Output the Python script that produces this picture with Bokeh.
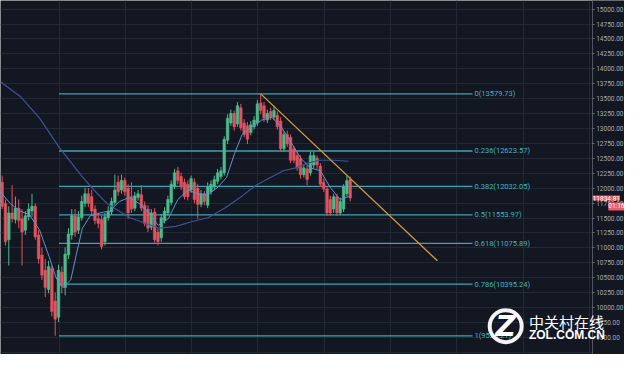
from bokeh.plotting import figure
from bokeh.models import Range1d, FixedTicker, PrintfTickFormatter, Label, ColumnDataSource
from bokeh.embed import file_html
from bokeh.resources import INLINE
from bokeh.core.properties import value

# ---------------- data ----------------
opens = [12099, 11746, 11137, 11586, 11474, 11666, 11490, 11298, 11522, 11618,
         11698, 11217, 10881, 10624, 10304, 10656, 10111, 9839, 10592, 10336,
         10881, 11217, 11538, 11298, 11506, 11746, 11907, 11859, 11650, 11490,
         11474, 11105, 11506, 11602, 11762, 12099, 11971, 12131, 12003, 11859,
         11666, 11843, 11891, 11714, 11650, 11346, 11602, 11265, 11169, 11458,
         11586, 11762, 12035, 12292, 12195, 12099, 12067, 11971, 12099, 12003,
         11730, 11907, 11714, 11939, 12019, 12115, 12195, 12260, 12804, 13093,
         13253, 13077, 13349, 13093, 13045, 12933, 13029, 13093, 13429, 13381,
         13141, 13285, 13189, 13221, 13125, 12660, 12901, 12853, 12660, 12548,
         12500, 12227, 12324, 12260, 12388, 12500, 12372, 12099, 11987, 11811,
         11650, 11859, 11586, 11650, 11907, 12147]
closes = [11698, 11105, 11586, 11490, 11666, 11458, 11265, 11538, 11650, 11698,
          11185, 10817, 10544, 10336, 10688, 9935, 9807, 10624, 10368, 10897,
          11233, 11538, 11265, 11522, 11779, 11907, 11746, 11618, 11458, 11410,
          11025, 11522, 11618, 11779, 11971, 11939, 12131, 11939, 11586, 11650,
          11875, 11907, 11666, 11410, 11330, 11586, 11137, 11105, 11506, 11618,
          11811, 12067, 12260, 12131, 12019, 11859, 11859, 12163, 11811, 11730,
          11907, 11779, 12019, 12067, 12147, 12260, 12292, 12820, 13173, 13253,
          13029, 13381, 13013, 12901, 12820, 13061, 13141, 13413, 13301, 13173,
          13253, 13189, 13301, 13029, 12660, 12901, 12740, 12468, 12468, 12340,
          12227, 12340, 12147, 12548, 12548, 12388, 12067, 11987, 11586, 11586,
          11859, 11586, 11779, 12019, 12131, 11834.81]
highs = [12211, 11811, 11698, 12051, 11859, 11811, 11650, 11618, 11746, 11907,
         11746, 11298, 11009, 10817, 10784, 10704, 10256, 10720, 10688, 11009,
         11330, 11650, 11650, 11618, 11875, 12003, 12003, 11971, 11714, 11586,
         11538, 11586, 11698, 11843, 12227, 12211, 12227, 12179, 12067, 12099,
         11939, 11971, 12051, 11779, 11714, 11650, 11666, 11330, 11570, 11682,
         11875, 12131, 12324, 12356, 12260, 12163, 12131, 12211, 12163, 12067,
         11971, 11955, 12099, 12131, 12211, 12324, 12356, 12869, 13237, 13317,
         13301, 13445, 13413, 13157, 13109, 13125, 13205, 13478, 13579.73, 13445,
         13317, 13349, 13381, 13285, 13189, 12949, 12965, 12901, 12708, 12612,
         12548, 12388, 12388, 12612, 12612, 12548, 12420, 12163, 12035, 11875,
         11907, 11907, 11843, 12067, 12211, 12195]
lows = [11650, 11041, 10704, 11426, 11410, 11330, 10704, 11217, 11458, 11522,
        11137, 10736, 10464, 10175, 10240, 9855, 9528.21, 9759, 10240, 10207,
        10817, 11137, 11185, 11233, 11458, 11682, 11682, 11554, 11394, 11330,
        10977, 11041, 11458, 11554, 11714, 11875, 11907, 11875, 11490, 11586,
        11618, 11795, 11618, 11362, 11265, 11298, 11089, 11041, 11105, 11410,
        11538, 11714, 11987, 12067, 11971, 11811, 11795, 11923, 11746, 11490,
        11682, 11714, 11666, 11891, 11971, 12067, 12147, 12211, 12740, 13045,
        12965, 13029, 12965, 12853, 12740, 12885, 12981, 13045, 13237, 13109,
        13093, 13141, 13141, 12981, 12612, 12612, 12692, 12420, 12420, 12292,
        12163, 12179, 12051, 12211, 12340, 12324, 12019, 11939, 11538, 11538,
        11586, 11538, 11554, 11602, 11859, 11779]

slow_ma_idx = [-0.5, 5.4, 11.3, 17.1, 23.9, 27.4, 31.9, 38.6, 47.4, 52.4, 57.4,
               62.1, 67.1, 72.1, 76.6, 80.4, 84.8, 88.6, 92.1, 95.7, 100.1, 104.5]
slow_ma = [13782, 13541, 13173, 12692, 12211, 11987, 11730, 11506, 11330, 11362, 11442,
           11506, 11666, 11859, 12051, 12163, 12292, 12340, 12420, 12468, 12468, 12452]

fast_ma_idx = [-0.5, 2.4, 5.4, 8.3, 11.3, 14.2, 16.3, 18.3, 20.7, 22.4, 24.2, 26.6,
               29.5, 32.4, 35.4, 38.3, 41.3, 44.2, 47.1, 50.1, 53.0, 56.0, 58.9,
               61.9, 64.8, 67.7, 70.1, 72.4, 75.4, 78.3, 81.3, 84.2, 87.1, 90.1,
               93.0, 96.0, 98.9, 101.9, 104.5]
fast_ma = [11939, 11746, 11618, 11554, 11298, 10849, 10496, 10336, 10464, 10897, 11330, 11538,
           11586, 11618, 11778, 11843, 11746, 11586, 11378, 11490, 11811, 11971, 11907,
           11891, 12003, 12179, 12580, 12901, 13029, 13141, 13189, 13029, 12772, 12500,
           12340, 12292, 12019, 11811, 11859]

trend_idx = [78, 131.3]
trend_price = [13579.73, 10784]

fib_ratio = [0, 0.236, 0.382, 0.5, 0.618, 0.786, 1]
fib_price = [13579.73, 12623.57, 12032.05, 11553.97, 11075.89, 10395.24, 9528.21]
fib_start, fib_end = 17.15, 141.9

grid_ticks = list(range(9250, 15001, 250))
price_ticks = list(range(9500, 15001, 250))
countdown = "01:16"

# ---------------- style ----------------
BG = "#131722"
GRID = "#232835"
UP = "#4cbb8c"
DOWN = "#e0535f"
FIB = "#45b3c2"
TAG = "#ee5d6a"
FONT = value("Roboto")
X_END = 187.74      # right edge of the canvas (in bar units)
AXIS_AT = 178.0     # where the price scale sits

idx = list(range(len(opens)))
cols = [UP if c >= o else DOWN for o, c in zip(opens, closes)]
src = ColumnDataSource(dict(
    x=idx, o=opens, c=closes, h=highs, l=lows, col=cols,
    top=[max(o, c) for o, c in zip(opens, closes)],
    bot=[min(o, c) for o, c in zip(opens, closes)],
))

p = figure(width=624, height=354, x_range=Range1d(-0.5, X_END),
           y_range=Range1d(9215, 15144), output_backend="svg",
           toolbar_location=None, x_axis_location=None, y_axis_location="right",
           background_fill_color=BG, border_fill_color=BG, min_border=0,
           outline_line_color=None)

p.ygrid.ticker = FixedTicker(ticks=grid_ticks)
p.ygrid.grid_line_color = GRID
vgrid = [17.15 + 20 * k for k in range(9)]
p.xgrid.ticker = FixedTicker(ticks=vgrid)
p.xgrid.grid_line_color = GRID

# blank strip behind the price scale
p.quad(left=[AXIS_AT], right=[X_END], bottom=[9215], top=[15144],
       fill_color=BG, line_color=None)

ax = p.yaxis[0]
ax.fixed_location = AXIS_AT
ax.ticker = FixedTicker(ticks=price_ticks)
ax.formatter = PrintfTickFormatter(format="%.2f")
ax.axis_line_color = "#50555f"
ax.major_tick_line_color = "#6a6f7c"
ax.major_tick_out = 2
ax.major_tick_in = 0
ax.minor_tick_line_color = None
ax.major_label_text_color = "#a7aab3"
ax.major_label_text_font_size = "6.5px"
ax.major_label_text_font = "Roboto"
ax.major_label_standoff = 2

# fib lines
p.segment(x0=[fib_start] * len(fib_price), x1=[fib_end] * len(fib_price),
          y0=fib_price, y1=fib_price, line_color=FIB, line_width=1.3, line_alpha=0.9)
fib_labels = [f"{r:g}({v:.2f})" for r, v in zip(fib_ratio, fib_price)]
p.text(x=[fib_end + 0.6] * len(fib_price), y=fib_price, text=fib_labels,
       text_font=FONT, text_font_size="7.5px", text_color=FIB,
       text_baseline="middle", text_align="left")

# candles
p.segment(x0="x", y0="l", x1="x", y1="h", line_color="col", line_width=1, source=src)
p.vbar(x="x", width=0.8, top="top", bottom="bot", fill_color="col",
       line_color="col", line_width=0.5, source=src)

# moving averages
p.line(slow_ma_idx, slow_ma, line_color="#3f5296", line_width=1.2)
p.line(fast_ma_idx, fast_ma, line_color="#5f93d3", line_width=1)

# trend line
p.line(trend_idx, trend_price, line_color="#d99a3c", line_width=1.3)

# last price tag + countdown
p.add_layout(Label(x=AXIS_AT, y=closes[-1], x_offset=0.5, text=f"{closes[-1]:.2f}",
                   text_font="Roboto", text_font_size="6.5px", text_color="#ffffff",
                   text_baseline="middle", background_fill_color=TAG, level="overlay"))
p.add_layout(Label(x=X_END, y=closes[-1] - 140, text=countdown, text_align="right",
                   text_font="Roboto", text_font_size="6.5px", text_color="#ffffff",
                   text_baseline="middle", background_fill_color=TAG, level="overlay"))

# watermark
p.annulus(x=[151.9], y=[9690], inner_radius=14, outer_radius=18,
          inner_radius_units="screen", outer_radius_units="screen",
          fill_color="white", line_color=None, fill_alpha=0.95)
p.text(x=[151.9], y=[9690], text=["Z"], text_font=value("DejaVu Sans"),
       text_font_style="bold italic", text_font_size="28px", text_color="white",
       text_align="center", text_baseline="middle")
p.add_layout(Label(x=158.9, y=9775, text="中关村在线", text_font="Noto Sans CJK SC",
                   text_font_size="15px", text_color="white", text_baseline="middle",
                   text_align="left", level="overlay"))
p.add_layout(Label(x=158.9, y=9540, text="ZOL.COM.CN", text_font="Liberation Sans",
                   text_font_style="bold", text_font_size="12px", text_color="white",
                   text_baseline="middle", text_align="left", level="overlay"))

open("out.html", "w").write(file_html(p, INLINE))
